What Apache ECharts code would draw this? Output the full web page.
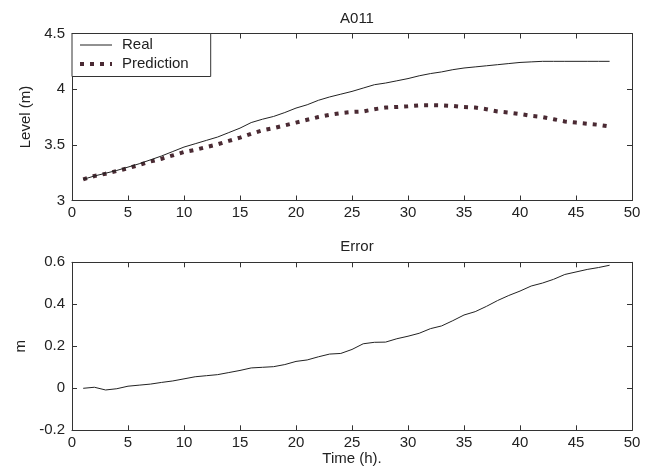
<!DOCTYPE html>
<html>
<head>
<meta charset="utf-8">
<script src="https://cdn.jsdelivr.net/npm/echarts@6/dist/echarts.min.js"></script>
<style>
html,body{margin:0;padding:0;background:#fff;}
#main{width:649px;height:471px;}
</style>
</head>
<body>
<div id="main"></div>
<script>
var hours = [1,2,3,4,5,6,7,8,9,10,11,12,13,14,15,16,17,18,19,20,21,22,23,24,25,26,27,28,29,30,31,32,33,34,35,36,37,38,39,40,41,42,43,44,45,46,47,48];
var realLevel = [3.19,3.22,3.245,3.27,3.30,3.33,3.365,3.40,3.44,3.48,3.51,3.54,3.57,3.61,3.65,3.70,3.73,3.755,3.79,3.83,3.86,3.90,3.93,3.955,3.98,4.01,4.04,4.055,4.075,4.095,4.12,4.14,4.155,4.175,4.19,4.20,4.21,4.22,4.23,4.24,4.245,4.25,4.25,4.25,4.25,4.25,4.25,4.25];
var predLevel = [3.19,3.22,3.24,3.265,3.29,3.32,3.35,3.375,3.405,3.435,3.455,3.48,3.505,3.535,3.565,3.60,3.63,3.65,3.675,3.70,3.725,3.75,3.77,3.785,3.795,3.80,3.82,3.835,3.84,3.847,3.855,3.856,3.855,3.85,3.84,3.835,3.82,3.80,3.79,3.777,3.76,3.75,3.73,3.71,3.70,3.69,3.68,3.665];
var errorVals = [0,0.005,-0.008,-0.002,0.01,0.015,0.02,0.028,0.035,0.045,0.055,0.06,0.065,0.075,0.085,0.097,0.10,0.103,0.113,0.128,0.135,0.15,0.163,0.166,0.185,0.212,0.219,0.22,0.236,0.248,0.262,0.284,0.297,0.322,0.349,0.365,0.39,0.418,0.442,0.463,0.487,0.501,0.519,0.542,0.554,0.566,0.575,0.586];
var xTicks = [0,5,10,15,20,25,30,35,40,45,50];
var topTitle = 'A011';
var bottomTitle = 'Error';
var xName = 'Time (h).';
var topYName = 'Level (m)';
var bottomYName = 'm';

function pairs(ys){ return hours.map(function(h,i){ return [h, ys[i]]; }); }

var FONT = 'Liberation Sans, Arial, sans-serif';
var TXT = '#222';
var AX = '#333';
var PRED_COLOR = '#4a2a33';

function xAx(gi, pos, labels, name){
  return {
    type:'value', gridIndex:gi, position:pos, min:xTicks[0], max:xTicks[xTicks.length-1], interval:5,
    axisLine:{show:true, onZero:false, lineStyle:{color:AX, width:1}},
    axisTick:{show:true, inside:true, length:5, lineStyle:{color:AX}},
    axisLabel:{show:labels, color:TXT, fontSize:15, fontFamily:FONT, margin:5},
    splitLine:{show:false},
    name: name || '', nameLocation:'middle', nameGap:12,
    nameTextStyle:{color:TXT, fontSize:15, fontFamily:FONT}
  };
}
function yAx(gi, pos, labels, min, max, interval, name, gap){
  return {
    type:'value', gridIndex:gi, position:pos, min:min, max:max, interval:interval,
    axisLine:{show:true, onZero:false, lineStyle:{color:AX, width:1}},
    axisTick:{show:true, inside:true, length:5, lineStyle:{color:AX}},
    axisLabel:{show:labels, color:TXT, fontSize:15, fontFamily:FONT, margin:7},
    splitLine:{show:false},
    name: name || '', nameLocation:'middle', nameGap:gap || 0,
    nameTextStyle:{color:TXT, fontSize:15, fontFamily:FONT}
  };
}

var chart = echarts.init(document.getElementById('main'), null, {renderer:'canvas'});
chart.setOption({
  backgroundColor:'#fff',
  animation:false,
  title:[
    {text:topTitle, left:352, top:6, textAlign:'center', textStyle:{color:TXT, fontSize:15, fontWeight:'normal', fontFamily:FONT}},
    {text:bottomTitle, left:352, top:234, textAlign:'center', textStyle:{color:TXT, fontSize:15, fontWeight:'normal', fontFamily:FONT}}
  ],
  legend:{
    data:[
      {name:'Real', lineStyle:{width:1, color:'#222'}},
      {name:'Prediction', lineStyle:{width:4, color:PRED_COLOR, type:[4,6]}}
    ],
    orient:'vertical', left:72, top:33.5,
    backgroundColor:'#fff', borderColor:AX, borderWidth:1, borderRadius:0,
    padding:[4,22,5,6], itemGap:4, itemWidth:32, itemHeight:14,
    itemStyle:{opacity:0},
    textStyle:{color:TXT, fontSize:15, fontFamily:FONT, padding:[0,0,0,5]}
  },
  grid:[
    {left:72, right:17, top:33.5, height:167, containLabel:false},
    {left:72, right:17, top:262.3, height:168, containLabel:false}
  ],
  xAxis:[
    xAx(0,'bottom',true), xAx(0,'top',false),
    xAx(1,'bottom',true,xName), xAx(1,'top',false)
  ],
  yAxis:[
    yAx(0,'left',true,3,4.5,0.5,topYName,36), yAx(0,'right',false,3,4.5,0.5),
    yAx(1,'left',true,-0.2,0.6,0.2,bottomYName,44), yAx(1,'right',false,-0.2,0.6,0.2)
  ],
  series:[
    {name:'Real', type:'line', xAxisIndex:0, yAxisIndex:0, data:pairs(realLevel), showSymbol:false, symbol:'none',
     lineStyle:{color:'#222', width:1}, itemStyle:{color:'#222'}, z:3},
    {name:'Prediction', type:'line', xAxisIndex:0, yAxisIndex:0, data:pairs(predLevel), showSymbol:false, symbol:'none',
     lineStyle:{color:PRED_COLOR, width:4, type:[4,6]}, itemStyle:{color:PRED_COLOR}, z:2},
    {name:'Error', type:'line', xAxisIndex:2, yAxisIndex:2, data:pairs(errorVals), showSymbol:false, symbol:'none',
     lineStyle:{color:'#222', width:1}, itemStyle:{color:'#222'}}
  ]
});
</script>
</body>
</html>
